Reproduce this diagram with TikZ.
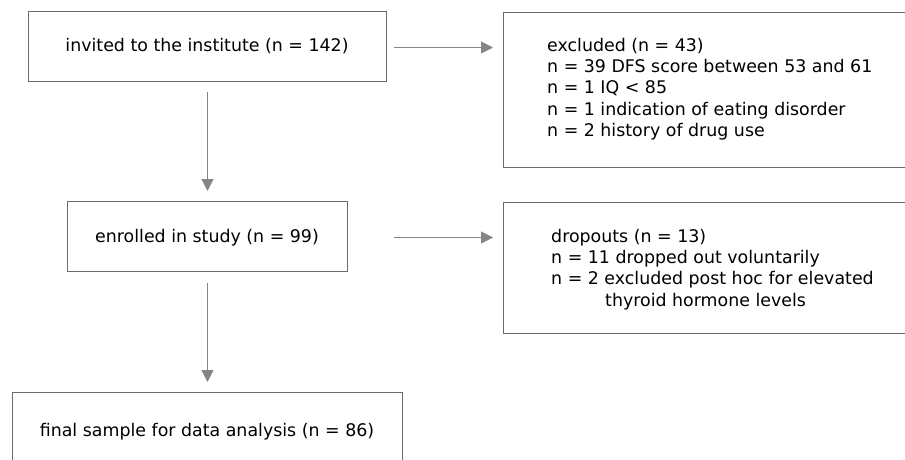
\documentclass[tikz,border=0pt]{standalone}
\usepackage{fontspec}
\setmainfont{DejaVu Sans}
\usetikzlibrary{arrows.meta}
\definecolor{boxgray}{HTML}{6A6A6A}
\definecolor{arrgray}{HTML}{858585}
\begin{document}
\begin{tikzpicture}[x=1pt,y=-1pt,
  box/.style={draw=boxgray,line width=1pt,inner sep=0pt,anchor=north west},
  txt/.style={font=\fontsize{17.4}{21.3}\selectfont,text=black,inner sep=0pt},
  flow/.style={draw=arrgray,line width=1pt,-{Triangle[length=12pt,width=12pt]}}]
\useasboundingbox (0,0) rectangle (905,460);
\node[box,minimum width=358pt,minimum height=70pt] (b1) at (28,11) {};
\node[box,minimum width=280pt,minimum height=70pt] (b2) at (67,201) {};
\node[box,minimum width=390pt,minimum height=90pt] (b3) at (12,392) {};
\node[box,minimum width=420pt,minimum height=155pt] (b4) at (503,12) {};
\node[box,minimum width=420pt,minimum height=131pt] (b5) at (503,202) {};
\node[txt,anchor=base] (t1) at (207,52) {invited to the institute (n = 142)};
\node[txt,anchor=base] (t2) at (207,242) {enrolled in study (n = 99)};
\node[txt,anchor=base] (t3) at (207,436) {final sample for data analysis (n = 86)};
\node[txt,anchor=base west,align=left] (t4) at (547,136.5) {excluded (n = 43)\\n = 39 DFS score between 53 and 61\\n = 1 IQ < 85\\n = 1 indication of eating disorder\\n = 2 history of drug use};
\node[txt,anchor=base west,align=left] (t5) at (551,306) {dropouts (n = 13)\\n = 11 dropped out voluntarily\\n = 2 excluded post hoc for elevated\\\hspace*{54pt}thyroid hormone levels};
\draw[flow,shorten <=10pt,shorten >=10pt] (b1.south) -- (b2.north);
\draw[flow,shorten <=11pt,shorten >=10pt] (b2.south) -- (b3.north);
\draw[flow,shorten <=7pt,shorten >=10pt] ([yshift=-1pt]b1.east) -- ([yshift=-1pt]b1.east -| b4.west);
\draw[flow,shorten <=46pt,shorten >=10pt] ([yshift=-1pt]b2.east) -- ([yshift=-1pt]b2.east -| b5.west);
\end{tikzpicture}
\end{document}
